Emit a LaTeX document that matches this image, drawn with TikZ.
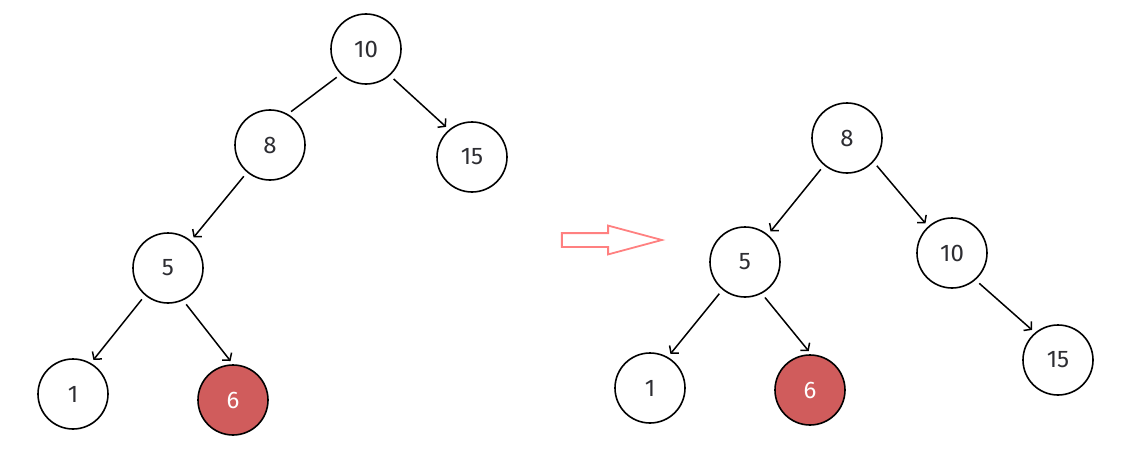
\documentclass[tikz,border=0pt]{standalone}
\usepackage{fontspec}
\setmainfont{Fira Sans}
\usepackage{tikz}
\usetikzlibrary{arrows.meta, shapes.arrows}
\definecolor{hot}{RGB}{208,92,92}
\definecolor{ink}{RGB}{45,45,50}
\definecolor{pink}{RGB}{255,128,128}
\tikzstyle{key} = [circle, draw, line width=1.6pt, minimum size=70pt, inner sep=0pt, text=ink, font=\fontsize{24}{28}\selectfont]
\tikzstyle{hotkey} = [key, fill=hot, text=white]
\tikzstyle{arrow} = [line width=1.5pt, -{Straight Barb[length=5pt,width=12pt]}, shorten >=4pt, shorten <=5pt]
\tikzstyle{plain} = [line width=1.5pt, shorten >=4pt, shorten <=5pt]

\begin{document}
\begin{tikzpicture}[x=1pt, y=-1pt]
\useasboundingbox (0,0) rectangle (1122,452);
% before
\node [key] (a10) at (366,49) {10};
\node [key] (a8) at (270,145) {8};
\node [key] (a15) at (472,157) {15};
\node [key] (a5) at (168,268) {5};
\node [key] (a1) at (73,394) {1};
\node [hotkey] (a6) at (233,400) {6};
\draw [plain] (a10.225) to (a8.60);
\draw [arrow] (a10.312) to (a15.130);
\draw [arrow] (a8.230) to (a5.50);
\draw [arrow] (a5.230) to (a1.60);
\draw [arrow] (a5.295) to (a6.90);
% rotation
\node [single arrow, draw=pink, line width=1.8pt, minimum height=100pt, minimum width=27pt, inner xsep=0pt, inner ysep=6pt, single arrow head extend=7.5pt, single arrow tip angle=30] (turn) at (599,240) {};
% after
\node [key] (b8) at (847,138) {8};
\node [key] (b5) at (745,262) {5};
\node [key] (b10) at (952,253) {10};
\node [key] (b1) at (650,388) {1};
\node [hotkey] (b6) at (810,390) {6};
\node [key] (b15) at (1058,360) {15};
\draw [arrow] (b8.230) to (b5.50);
\draw [arrow] (b8.318) to (b10.132);
\draw [arrow] (b5.231) to (b1.60);
\draw [arrow] (b5.298) to (b6.88);
\draw [arrow] (b10.311) to (b15.130);
\end{tikzpicture}
\end{document}
